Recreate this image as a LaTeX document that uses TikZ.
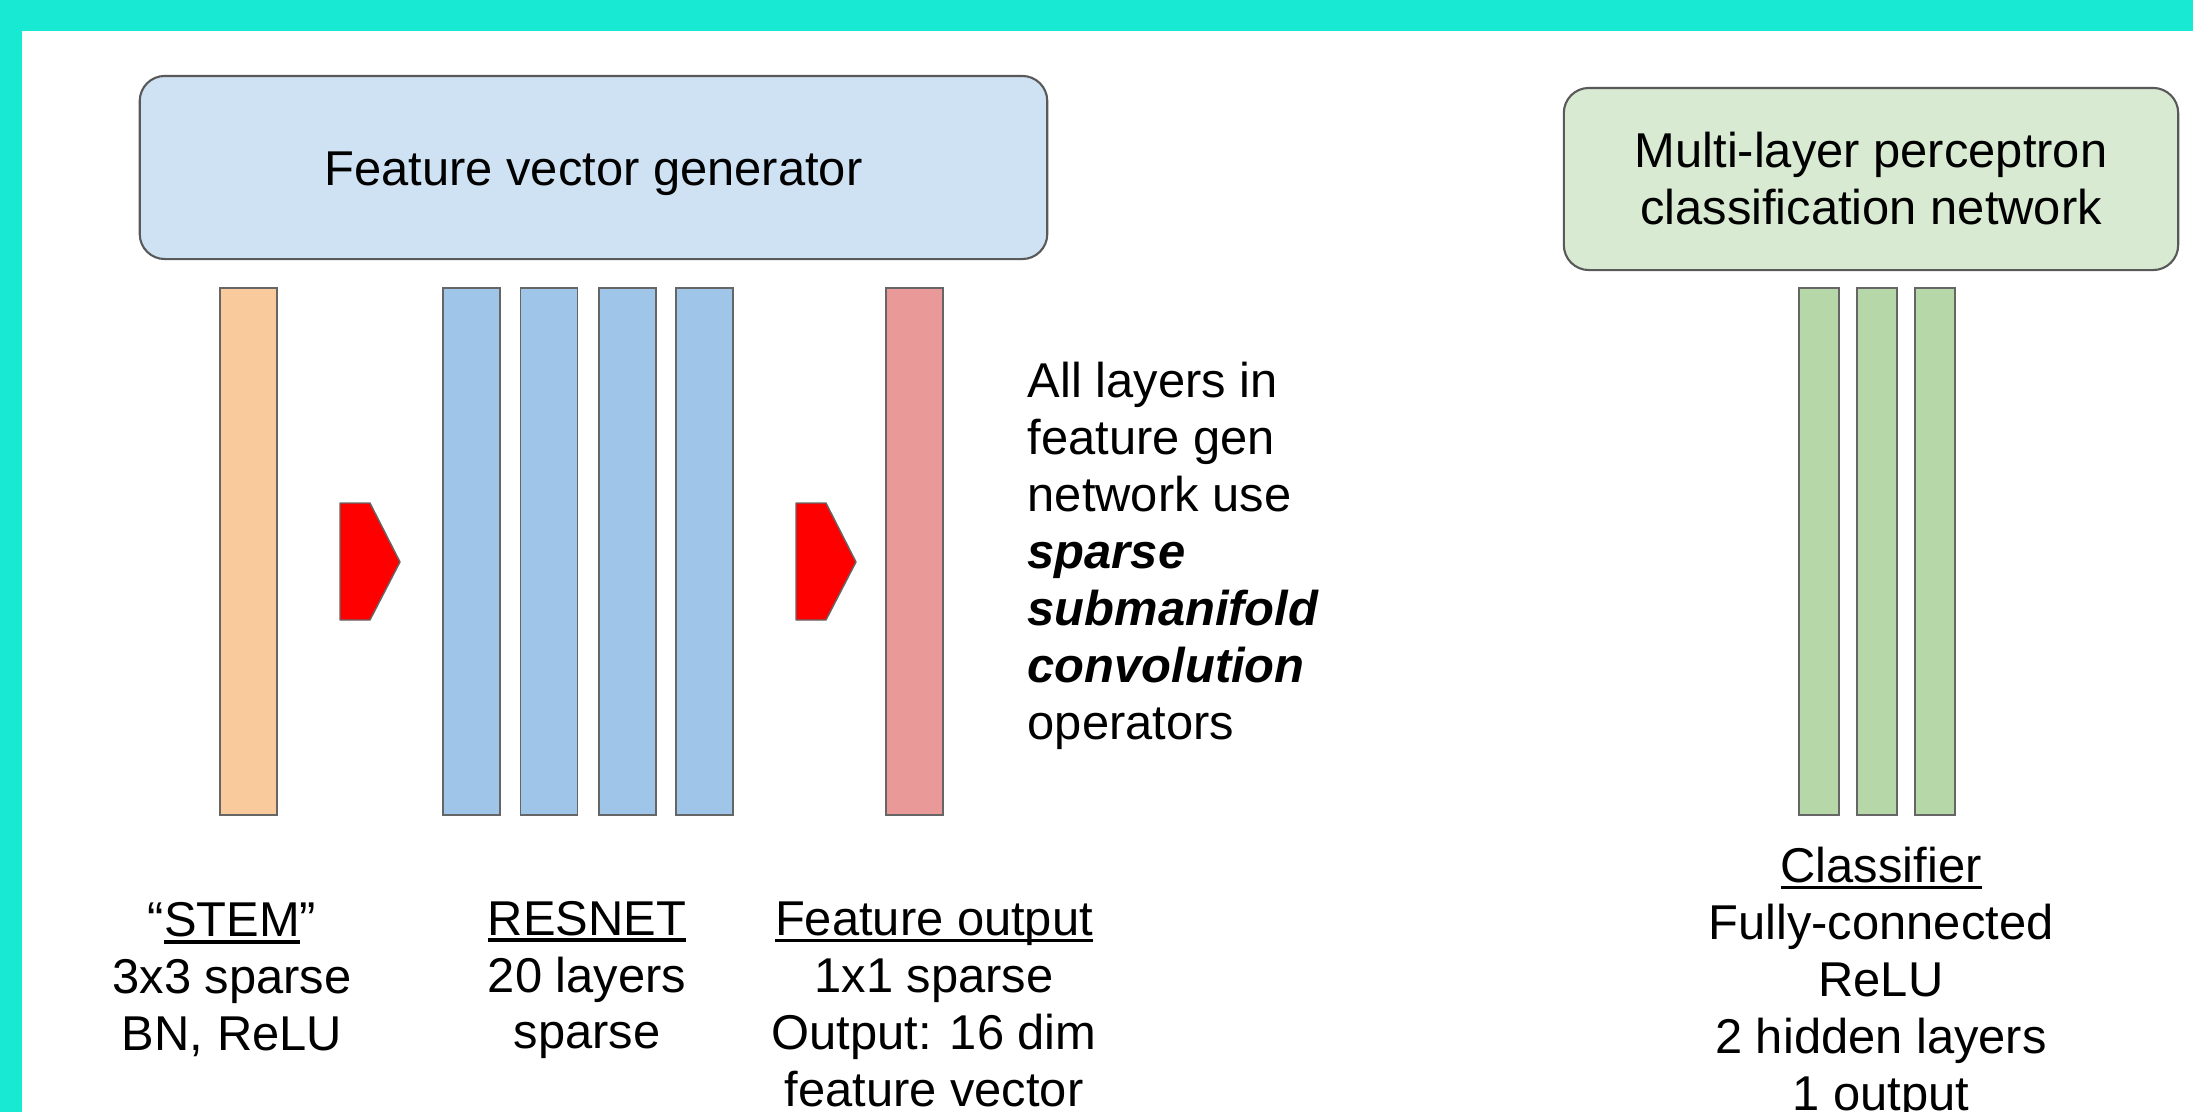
\documentclass[tikz,border=0pt]{standalone}
\usepackage{fontspec}
\setmainfont{Liberation Sans}

\definecolor{frameteal}{RGB}{24,233,210}
\definecolor{stemorange}{HTML}{F9CB9C}
\definecolor{resblue}{HTML}{9FC5E8}
\definecolor{featpink}{HTML}{EA9999}
\definecolor{clsgreen}{HTML}{B6D7A8}
\definecolor{fvgblue}{HTML}{CFE2F3}
\definecolor{mlpgreen}{HTML}{D9EAD3}
\definecolor{barline}{HTML}{666666}
\definecolor{boxline}{HTML}{595959}

% underline sitting just under the baseline, through descenders
\newcommand{\ultext}[1]{\setbox0\hbox{#1}\rlap{\rule[-0.14em]{\wd0}{0.07em}}\box0}

\begin{document}
\begin{tikzpicture}[x=0.01cm,y=-0.01cm,
    font=\fontsize{13.9}{16.2}\selectfont,
    layer/.style={draw=barline,line width=0.5pt,minimum height=5.27cm,inner sep=0pt},
    netbox/.style={draw=boxline,line width=0.6pt,rounded corners=0.25cm,inner sep=0pt,align=center},
    chevron/.style={fill=red,draw=barline,line width=0.4pt,line join=round},
    lbl/.style={align=center,inner sep=0pt}]

    \useasboundingbox (0,0) rectangle (2193,1112);
    \clip (0,0) rectangle (2193,1112);
    \fill[frameteal] (0,0) rectangle (2193,1112);
    \fill[white] (22,31) rectangle (2193,1112);

    % the two networks
    \node[netbox,fill=fvgblue,minimum width=9.07cm,minimum height=1.83cm,text height=1.2em,text depth=0.194em] (fvg) at (593.5,167.5) {Feature vector generator};
    \node[netbox,fill=mlpgreen,minimum width=6.14cm,minimum height=1.82cm] (mlp) at (1871,179) {Multi-layer perceptron\\classification network};

    % feature generator layers
    \node[layer,fill=stemorange,minimum width=0.57cm] (stem) at (248.5,551.5) {};
    \node[layer,fill=resblue,minimum width=0.57cm] (res1) at (471.5,551.5) {};
    \node[layer,fill=resblue,minimum width=0.57cm] (res2) at (549,551.5) {};
    \node[layer,fill=resblue,minimum width=0.57cm] (res3) at (627.5,551.5) {};
    \node[layer,fill=resblue,minimum width=0.57cm] (res4) at (704.5,551.5) {};
    \node[layer,fill=featpink,minimum width=0.57cm] (featout) at (914.5,551.5) {};

    \draw[chevron] (340,503) -- (370,503) -- (400,562) -- (370,620) -- (340,620) -- cycle;
    \begin{scope}[shift={(456,0)}]
        \draw[chevron] (340,503) -- (370,503) -- (400,562) -- (370,620) -- (340,620) -- cycle;
    \end{scope}

    % classifier layers
    \node[layer,fill=clsgreen,minimum width=0.40cm] (cls1) at (1819,551.5) {};
    \node[layer,fill=clsgreen,minimum width=0.40cm] (cls2) at (1877,551.5) {};
    \node[layer,fill=clsgreen,minimum width=0.40cm] (cls3) at (1935,551.5) {};

    % captions
    \node[lbl] (stemlbl) at (232,980) {“\ultext{STEM}”\\3x3 sparse\\BN, ReLU};
    \node[lbl] (reslbl) at (587,980) {\ultext{RESNET}\\20 layers\\sparse};
    \node[lbl] (featlbl) at (934,1004) {\ultext{Feature output}\\1x1 sparse\\Output: 16 dim\\feature vector};
    \node[lbl] (clslbl) at (1881,983.5) {\ultext{Classifier}\\Fully-connected\\ReLU\\2 hidden layers\\1 output};

    \node[lbl,anchor=west,align=left] (note) at (1027,555.5) {All layers in\\feature gen\\network use\\\textbf{\textit{sparse}}\\\textbf{\textit{submanifold}}\\\textbf{\textit{convolution}}\\operators};
\end{tikzpicture}
\end{document}
